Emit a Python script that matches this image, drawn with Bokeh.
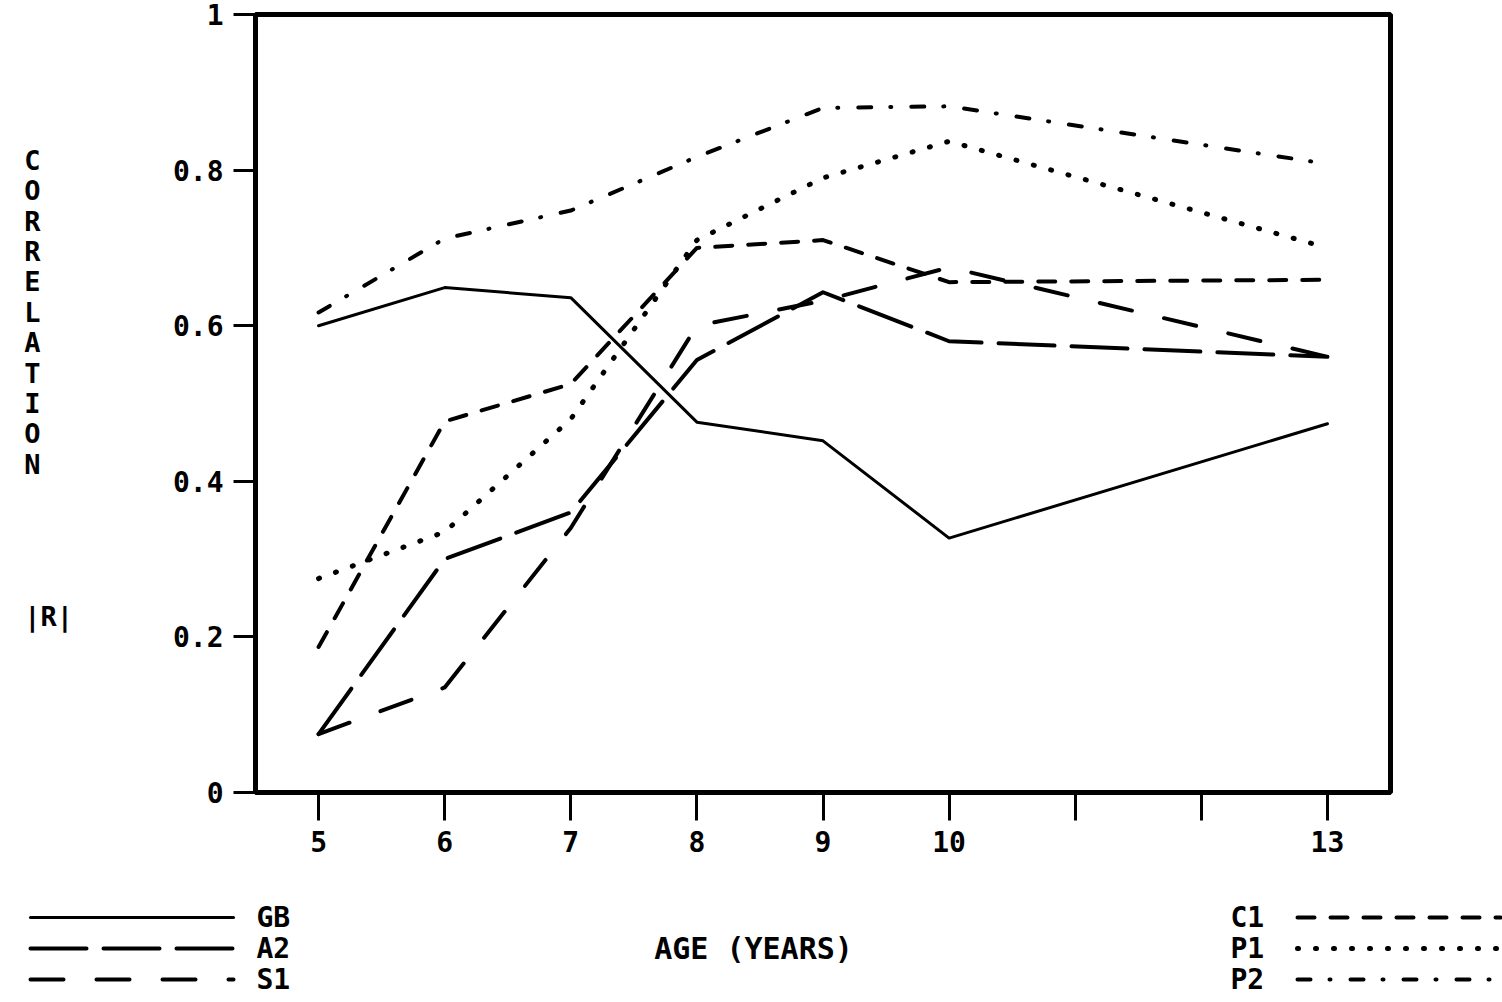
from bokeh.plotting import figure
from bokeh.models import FixedTicker, Range1d, ColumnDataSource
from bokeh.layouts import column
from bokeh.embed import file_html
from bokeh.resources import INLINE
from bokeh.core.properties import value

# ---- data ----
ages = [5, 6, 7, 8, 9, 10, 13]
gb = [0.600, 0.649, 0.636, 0.476, 0.452, 0.327, 0.474]
a2 = [0.075, 0.300, 0.360, 0.556, 0.643, 0.580, 0.560]
s1 = [0.075, 0.135, 0.340, 0.600, 0.632, 0.675, 0.560]
c1 = [0.187, 0.477, 0.525, 0.700, 0.710, 0.656, 0.659]
p1 = [0.275, 0.335, 0.480, 0.710, 0.790, 0.837, 0.700]
p2 = [0.617, 0.712, 0.748, 0.817, 0.880, 0.882, 0.808]

x_ticks = [5, 6, 7, 8, 9, 10, 11, 12, 13]
x_tick_labels = ["5", "6", "7", "8", "9", "10", "", "", "13"]
y_ticks = [0, 0.2, 0.4, 0.6, 0.8, 1]
y_tick_labels = ["0", "0.2", "0.4", "0.6", "0.8", "1"]

left_names = ["GB", "A2", "S1"]
right_names = ["C1", "P1", "P2"]
x_title = "AGE (YEARS)"
y_title = "CORRELATION"
y_sub = "|R|"

FONT = "DejaVu Sans Mono"

styles = {
    "GB": dict(line_width=3, line_dash="solid"),
    "A2": dict(line_width=4, line_dash="56 17"),
    "S1": dict(line_width=4, line_dash="33 33"),
    "C1": dict(line_width=4, line_dash="17 16"),
    "P1": dict(line_width=5, line_dash="1 17"),
    "P2": dict(line_width=4, line_dash="13 19 1 20"),
}
series = {"GB": gb, "A2": a2, "S1": s1, "C1": c1, "P1": p1, "P2": p2}

W = 1502
H1 = 888
H2 = 112

p = figure(width=W, height=H1, output_backend="svg", toolbar_location=None,
           x_range=Range1d(4.5, 13.5), y_range=Range1d(0, 1.0),
           min_border_left=255, min_border_right=W - 255 - 1135, min_border_top=14,
           min_border_bottom=H1 - 14 - 778)
p.frame_align = False
p.grid.visible = False
p.outline_line_color = "black"
p.outline_line_width = 5
p.background_fill_color = "white"
p.border_fill_color = "white"

for name, vals in series.items():
    st = styles[name]
    p.line(ages, vals, line_color="black", line_width=st["line_width"],
           line_dash=st["line_dash"], line_cap="round", line_join="round")

# axes
p.xaxis.ticker = FixedTicker(ticks=x_ticks)
p.xaxis.major_label_overrides = {t: l for t, l in zip(x_ticks, x_tick_labels)}
p.yaxis.ticker = FixedTicker(ticks=y_ticks)
p.yaxis.major_label_overrides = {t: l for t, l in zip(y_ticks, y_tick_labels)}
for ax in (p.xaxis, p.yaxis):
    ax.axis_line_color = None
    ax.major_tick_in = 0
    ax.minor_tick_line_color = None
    ax.major_tick_line_color = "black"
    ax.major_tick_line_width = 3
    ax.major_label_text_font = FONT
    ax.major_label_text_font_style = "bold"
    ax.major_label_text_font_size = "28px"
    ax.major_label_text_color = "black"
p.xaxis.major_tick_out = 28
p.xaxis.major_label_standoff = 10
p.yaxis.major_tick_out = 22
p.yaxis.major_label_standoff = 10

# stacked y title with |R| below it (letters padded with no-break spaces so
# that every line has the same width as "|R|")
NB = "\u00a0"
y_lines = [ch + NB * 2 for ch in y_title] + [NB * 3] * 4 + [y_sub, NB * 3]
p.yaxis.axis_label = "\n".join(y_lines)
p.yaxis.axis_label_orientation = "horizontal"
p.yaxis.axis_label_text_font = FONT
p.yaxis.axis_label_text_font_style = "bold"
p.yaxis.axis_label_text_font_size = "27px"
p.yaxis.axis_label_text_line_height = 0.98
p.yaxis.axis_label_text_align = "left"
p.yaxis.axis_label_text_color = "black"
p.yaxis.axis_label_standoff = 97

# ---- legend / x title panel ----
q = figure(width=W, height=H2, output_backend="svg", toolbar_location=None,
           x_range=Range1d(0, W), y_range=Range1d(H2, 0),
           x_axis_type=None, y_axis_type=None,
           min_border_left=0, min_border_right=0, min_border_top=0,
           min_border_bottom=0)
q.frame_align = False
q.grid.visible = False
q.outline_line_color = None
q.background_fill_color = "white"
q.border_fill_color = "white"

rows = [29, 60, 91]
for name, yy in zip(left_names, rows):
    st = styles[name]
    q.line([30, 233], [yy, yy], line_color="black", line_width=st["line_width"],
           line_dash=st["line_dash"], line_cap="round")
for name, yy in zip(right_names, rows):
    st = styles[name]
    q.line([1297, 1500], [yy, yy], line_color="black", line_width=st["line_width"],
           line_dash=st["line_dash"], line_cap="round")

src_l = ColumnDataSource(dict(x=[256] * 3, y=rows, t=left_names))
q.text(x="x", y="y", text="t", source=src_l, text_font=value(FONT),
       text_font_style="bold", text_font_size="28px", text_align="left",
       text_baseline="middle", text_color="black")
src_r = ColumnDataSource(dict(x=[1230] * 3, y=rows, t=right_names))
q.text(x="x", y="y", text="t", source=src_r, text_font=value(FONT),
       text_font_style="bold", text_font_size="28px", text_align="left",
       text_baseline="middle", text_color="black")
src_t = ColumnDataSource(dict(x=[753], y=[60], t=[x_title]))
q.text(x="x", y="y", text="t", source=src_t, text_font=value(FONT),
       text_font_style="bold", text_font_size="30px", text_align="center",
       text_baseline="middle", text_color="black")

layout = column(p, q, spacing=0)
open("out.html", "w").write(file_html(layout, INLINE))
